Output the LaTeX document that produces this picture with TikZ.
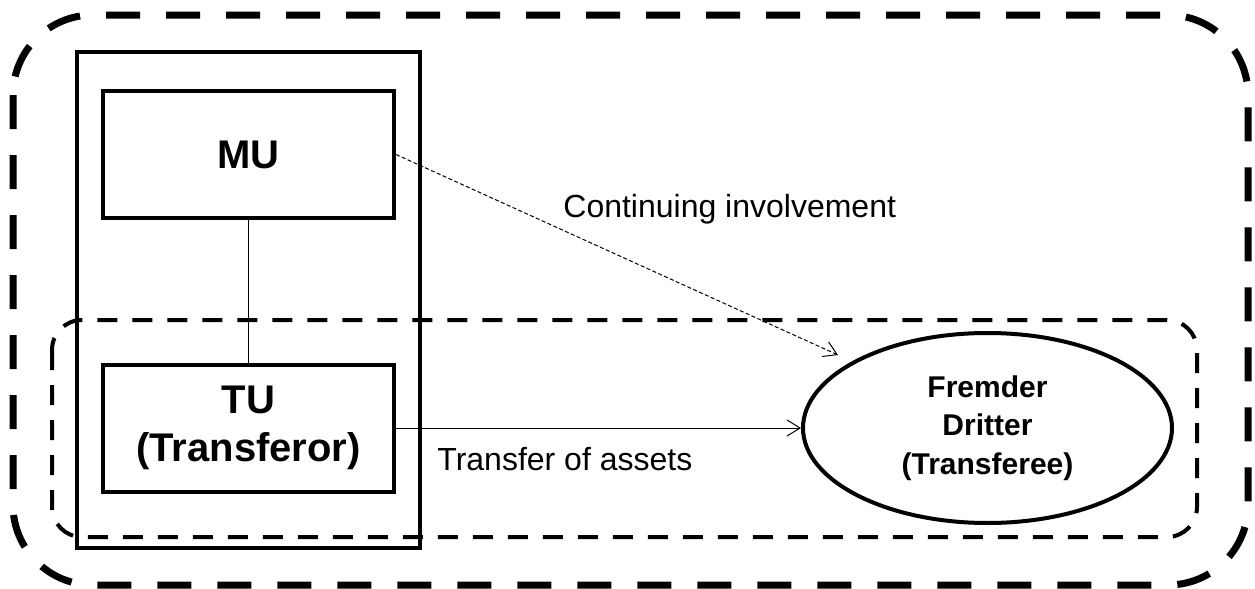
\documentclass[tikz,border=0pt]{standalone}
\usepackage{fontspec}
\setmainfont{Liberation Sans}
\usetikzlibrary{arrows.meta,shapes.geometric}

\begin{document}
\begin{tikzpicture}[x=0.5pt,y=-0.5pt,
    unit/.style={draw,line width=2pt,minimum width=145.5pt,minimum height=63.5pt,inner sep=0pt,align=center,font=\bfseries\fontsize{20}{24}\selectfont},
    party/.style={draw,ellipse,line width=2pt,minimum width=184.5pt,minimum height=95pt,inner sep=0pt,align=center,font=\bfseries\fontsize{15}{19.25}\selectfont},
    lab/.style={anchor=base west,inner sep=0pt,font=\fontsize{16}{19}\selectfont},
    flow/.style={line width=0.5pt,-{Straight Barb[length=6.5pt,width=8pt]}}]
    \useasboundingbox (0,0) rectangle (1255,589);
    % outer group
    \draw[line width=3.5pt,dash pattern=on 17pt off 13pt,rounded corners=40pt] (13,15) rectangle (1248,585);
    % transfer scope
    \draw[line width=2pt,dash pattern=on 10pt off 7.5pt,rounded corners=15pt] (52,320) rectangle (1197,537);
    \draw[line width=2pt] (77,52) rectangle (420,548);
    \node[unit] (mu) at (248.5,154.5) {MU};
    \node[unit] (tu) at (248.5,428) {TU\\(Transferor)};
    \node[party] (fd) at (987.5,428) {Fremder\\Dritter\\(Transferee)};
    \coordinate (ci) at (838,355);
    \draw[line width=0.5pt] (mu) -- (tu);
    \draw[flow] (tu) -- (fd);
    \draw[flow,dash pattern=on 2pt off 1.2pt] (mu.east) -- (ci);
    \node[lab] (cilab) at (563,217) {Continuing involvement};
    \node[lab] (tlab) at (437,470) {Transfer of assets};
\end{tikzpicture}
\end{document}
